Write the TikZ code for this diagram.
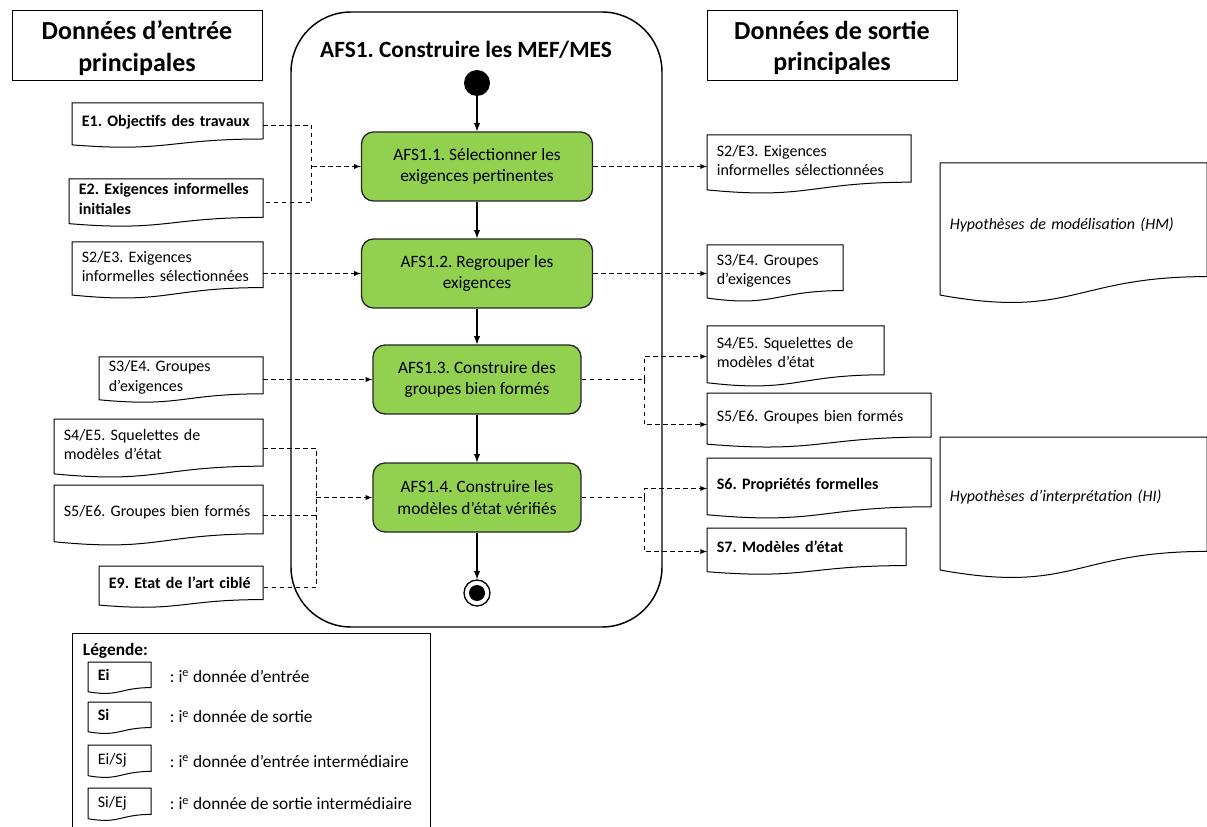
\documentclass[tikz,border=0pt]{standalone}
\usepackage{fontspec}
\setmainfont{Carlito}
\frenchspacing
\usetikzlibrary{calc}

\definecolor{actgreen}{HTML}{92D050}
\newcommand\docfont{\fontsize{12}{14.6}\selectfont}
\newcommand\actfont{\fontsize{13}{16}\selectfont}
\newcommand\keyfont{\fontsize{13}{16}\selectfont}
\newcommand\headfont{\bfseries\fontsize{19.5}{23.4}\selectfont}

\begin{document}
\begin{tikzpicture}[
    x=0.75pt, y=-0.75pt,
    >=latex,
    line width=0.75pt,
    font=\docfont,
    docsize/.code 2 args={%
      \pgfmathsetlengthmacro\docw{#1*0.75pt}%
      \pgfmathsetlengthmacro\doctext{#1*0.75pt-14pt}%
      \pgfmathsetlengthmacro\doch{#2*0.75pt}%
      \pgfkeysalso{minimum width=\docw, text width=\doctext, minimum height=\doch}},
    doc/.style 2 args={rectangle, anchor=north west, inner xsep=7pt, inner ysep=2pt, align=left, text depth=7pt, docsize={#1}{#2}},
    twoline/.style={text depth=21pt},
    key/.style={doc={62}{#1}, text depth=4pt},
    head/.style={rectangle, draw, minimum width=187.5pt, minimum height=52.5pt, align=center, text depth=0pt, font=\headfont},
    action/.style={rectangle, draw=black!85, fill=actgreen, line width=1pt, rounded corners=9pt, minimum height=51.75pt, align=center, font=\actfont},
    flow/.style={->, line width=1.1pt},
    dline/.style={dash pattern=on 3.5pt off 2.5pt},
    dflow/.style={->, dline}
]
\useasboundingbox (0,0) rectangle (1207,827);

% ---- column headers ----
\node[head] (inhead) at (137,46) {Données d’entrée\\principales};
\node[head] (outhead) at (832,46) {Données de sortie\\principales};

% ---- activity AFS1 ----
\draw[line width=1.1pt, rounded corners=45pt] (291,12) rectangle (662,627);
\node[font=\bfseries\fontsize{17.5}{21}\selectfont] (title) at (466,50) {AFS1. Construire les MEF/MES};

\node[circle, fill, inner sep=0pt, minimum size=19.5pt] (start) at (477,83) {};
\node[action, minimum width=173.25pt] (a1) at (477,166.5) {AFS1.1. Sélectionner les\\exigences pertinentes};
\node[action, minimum width=173.25pt] (a2) at (477,273.5) {AFS1.2. Regrouper les\\exigences};
\node[action, minimum width=156pt] (a3) at (477,379.5) {AFS1.3. Construire des\\groupes bien formés};
\node[action, minimum width=156pt] (a4) at (477,497.5) {AFS1.4. Construire les\\modèles d’état vérifiés};
\node[circle, draw, line width=1pt, inner sep=0pt, minimum size=19.5pt] (stop) at (477,593) {};
\fill (stop) circle (6pt);

\draw[flow] (start) -- (a1);
\draw[flow] (a1) -- (a2);
\draw[flow] (a2) -- (a3);
\draw[flow] (a3) -- (a4);
\draw[flow] (a4) -- (stop);

% ---- input data ----
\node[doc={190}{44}, font=\docfont\bfseries] (inE1) at (72,103) {E1. Objectifs des travaux};
\node[doc={193}{47}, twoline, font=\docfont\bfseries] (inE2) at (69,179) {E2. Exigences informelles\\initiales};
\node[doc={190}{56}, twoline] (inE3) at (72,242) {S2/E3. Exigences\\informelles sélectionnées};
\node[doc={163}{45}, twoline] (inE4) at (99,357) {S3/E4. Groupes\\d’exigences};
\node[doc={208}{58}, twoline] (inE5) at (54,419) {S4/E5. Squelettes de\\modèles d’état};
\node[doc={208}{60}] (inE6) at (54,485) {S5/E6. Groupes bien formés};
\node[doc={163}{41}, font=\docfont\bfseries] (inE9) at (99,566) {E9. Etat de l’art ciblé};

% ---- output data ----
\node[doc={203}{58}, twoline] (outS2) at (707,135) {S2/E3. Exigences\\informelles sélectionnées};
\node[doc={135}{56}, twoline] (outS3) at (707,245) {S3/E4. Groupes\\d’exigences};
\node[doc={176}{60}, twoline] (outS4) at (707,326) {S4/E5. Squelettes de\\modèles d’état};
\node[doc={223}{54}] (outS5) at (707,393) {S5/E6. Groupes bien formés};
\node[doc={223}{60}, font=\docfont\bfseries] (outS6) at (707,458) {S6. Propriétés formelles};
\node[doc={198}{46}, font=\docfont\bfseries] (outS7) at (707,528) {S7. Modèles d’état};

% ---- hypotheses ----
\node[doc={266}{141}, text depth=16pt, font=\docfont\itshape] (hypHM) at (940,163) {Hypothèses de modélisation (HM)};
\node[doc={266}{142}, text depth=19pt, font=\docfont\itshape] (hypHI) at (940,437) {Hypothèses d’interprétation (HI)};

% ---- legend ----
\draw (72,828) |- (430,633) -- (430,828);
\node[anchor=west, font=\keyfont\bfseries] (legtitle) at (78,651) {Légende:};
\node[key=31, font=\docfont\bfseries] (keyE) at (88,662) {Ei};
\node[key=31, font=\docfont\bfseries] (keyS) at (88,702) {Si};
\node[key=32] (keyES) at (88,745) {Ei/Sj};
\node[key=32] (keySE) at (88,788) {Si/Ej};
\foreach \k/\y/\t in {keyEtxt/676/d’entrée, keyStxt/717/de sortie, keyEStxt/761/d’entrée intermédiaire, keySEtxt/804/de sortie intermédiaire}
  \node[anchor=west, font=\keyfont] (\k) at (165,\y) {: i\textsuperscript{e} donnée \t};

% document outlines with a wavy bottom edge
\foreach \d in {inE1,inE2,inE3,inE4,inE5,inE6,inE9,outS2,outS3,outS4,outS5,outS6,outS7,hypHM,hypHI,keyE,keyS,keyES,keySE}
  \draw (\d.north west) -- (\d.north east) -- ($(\d.north east)!0.8!(\d.south east)$)
    .. controls ($(\d.north)!0.8!(\d.south)$) and ($(\d.north)!1.1!(\d.south)$)
    .. ($(\d.north west)!0.93!(\d.south west)$) -- cycle;

% ---- data flows into the activities ----
\coordinate (jin1) at ($(a1.west)+(-49,0)$);
\coordinate (jin4) at ($(a4.west)+(-56,0)$);
\draw[dline] (inE1.east) -| (jin1) |- (inE2.east);
\draw[dflow] (jin1) -- (a1.west);
\draw[dflow] (a2.west -| inE3.east) -- (a2.west);
\draw[dflow] (a3.west -| inE4.east) -- (a3.west);
\draw[dline] (inE5.east) -| (jin4) |- (inE9.east);
\draw[dline] (inE6.east) -- (inE6.east -| jin4);
\draw[dflow] (jin4) -- (a4.west);

% ---- data flows out of the activities ----
\coordinate (jout3) at (644,0 |- a3.east);
\coordinate (jout4) at (644,0 |- a4.east);
\draw[dflow] (a1.east) -- (a1.east -| outS2.west);
\draw[dflow] (a2.east) -- (a2.east -| outS3.west);
\draw[dline] (a3.east) -- (jout3);
\draw[dflow] (jout3) |- (outS4.west);
\draw[dflow] (jout3) |- ([yshift=-3pt]outS5.west);
\draw[dline] (a4.east) -- (jout4);
\draw[dflow] (jout4) |- (outS6.west);
\draw[dflow] (jout4) |- (outS7.west);
\end{tikzpicture}
\end{document}
